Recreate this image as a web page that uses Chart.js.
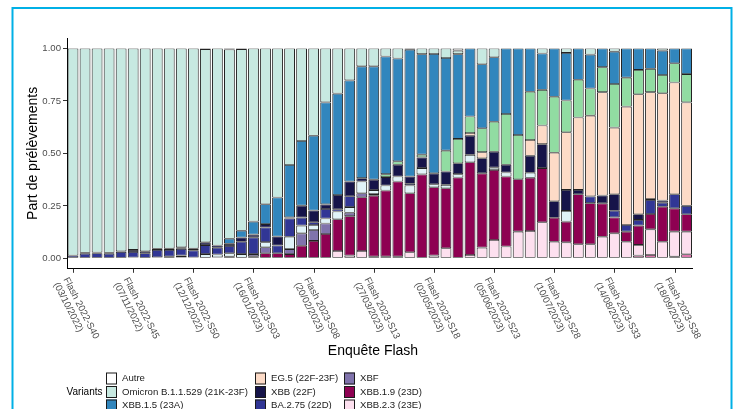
<!DOCTYPE html>
<html>
<head>
<meta charset="utf-8">
<script src="https://cdn.jsdelivr.net/npm/chart.js@4.4.1/dist/chart.umd.min.js"></script>
<style>
  html, body { margin: 0; padding: 0; background: #ffffff; }
  #wrap { position: relative; width: 739px; height: 409px; overflow: hidden; }
</style>
</head>
<body>
<div id="wrap"><canvas id="chart" width="739" height="409"></canvas></div>
<script>
// Weekly "Enquête Flash" surveys
const weeks = [
  "Flash 2022-S40","Flash 2022-S41","Flash 2022-S42","Flash 2022-S43","Flash 2022-S44","Flash 2022-S45",
  "Flash 2022-S46","Flash 2022-S47","Flash 2022-S48","Flash 2022-S49","Flash 2022-S50","Flash 2022-S51",
  "Flash 2022-S52","Flash 2023-S01","Flash 2023-S02","Flash 2023-S03","Flash 2023-S04","Flash 2023-S05",
  "Flash 2023-S06","Flash 2023-S07","Flash 2023-S08","Flash 2023-S09","Flash 2023-S10","Flash 2023-S11",
  "Flash 2023-S12","Flash 2023-S13","Flash 2023-S14","Flash 2023-S15","Flash 2023-S16","Flash 2023-S17",
  "Flash 2023-S18","Flash 2023-S19","Flash 2023-S20","Flash 2023-S21","Flash 2023-S22","Flash 2023-S23",
  "Flash 2023-S24","Flash 2023-S25","Flash 2023-S26","Flash 2023-S27","Flash 2023-S28","Flash 2023-S29",
  "Flash 2023-S30","Flash 2023-S31","Flash 2023-S32","Flash 2023-S33","Flash 2023-S34","Flash 2023-S35",
  "Flash 2023-S36","Flash 2023-S37","Flash 2023-S38","Flash 2023-S39"
];

// Labelled weeks on the x axis and their survey dates
const tickWeeks = ["Flash 2022-S40","Flash 2022-S45","Flash 2022-S50","Flash 2023-S03","Flash 2023-S08",
  "Flash 2023-S13","Flash 2023-S18","Flash 2023-S23","Flash 2023-S28","Flash 2023-S33","Flash 2023-S38"];
const tickDates = ["(03/10/2022)","(07/11/2022)","(12/12/2022)","(16/01/2023)","(20/02/2023)",
  "(27/03/2023)","(02/05/2023)","(05/06/2023)","(10/07/2023)","(14/08/2023)","(18/09/2023)"];

const yTicks = [0, 0.25, 0.5, 0.75, 1];

// Share of samples per variant, one value per week
const autre = [0,0,0,0,0,0,0,0,0,0, 0,0.003,0,0.005,0.003,0,0,0,0,0,
  0,0,0,0,0,0,0,0,0.003,0, 0,0,0.01,0,0,0,0,0,0,0, 0,0,0,0,0,0,0,0,0,0, 0,0];
const omicron = [0.987,0.974,0.972,0.974,0.967,0.96,0.966,0.955,0.954,0.947,
  0.954,0.921,0.939,0.902,0.866,0.825,0.742,0.71,0.555,0.441,
  0.416,0.257,0.215,0.152,0.085,0.085,0.038,0.048,0.003,0.027,
  0.026,0.045,0.017,0,0.075,0.042,0,0,0,0.024,
  0,0.021,0,0.029,0,0.015,0,0,0,0.01, 0,0];
const xbb15 = [0,0,0,0,0,0,0,0,0,0,
  0,0,0,0.024,0.032,0.062,0.095,0.186,0.25,0.308,
  0.356,0.486,0.483,0.482,0.533,0.54,0.561,0.49,0.604,0.479,
  0.569,0.442,0.404,0.324,0.305,0.307,0.312,0.412,0.206,0.173,
  0.23,0.227,0.149,0.162,0.089,0.154,0.139,0.102,0.097,0.116, 0.07,0.122];
const xbb116 = [0,0,0,0,0,0,0,0,0,0, 0,0,0,0,0,0,0,0,0,0,
  0,0,0,0,0,0,0.014,0.016,0,0.013,
  0,0.099,0.116,0.079,0.114,0.143,0.242,0.211,0.23,0.17,
  0.267,0.151,0.18,0.129,0.119,0.208,0.138,0.116,0.111,0.087, 0.092,0.135];
const eg5 = [0,0,0,0,0,0,0,0,0,0, 0,0,0,0,0,0,0,0,0,0, 0,0,0,0,0,0,0,0,0,0,
  0,0,0,0.013,0.029,0,0,0,0.075,0.089,
  0.231,0.275,0.345,0.385,0.493,0.318,0.564,0.572,0.509,0.512, 0.533,0.493];
const xbb = [0,0.004,0.004,0.004,0.003,0.01,0.01,0.005,0.006,0.008,
  0.008,0.013,0.011,0.01,0.02,0.013,0.016,0.043,0.005,0.057,
  0.056,0.022,0.068,0.07,0.016,0.05,0.04,0.056,0.035,0.051,
  0.052,0.064,0.052,0.091,0.072,0.076,0.037,0,0.081,0.114,
  0.079,0.1,0.021,0,0.037,0.078,0,0.027,0.005,0.01, 0,0];
const ba275 = [0.013,0.022,0.024,0.022,0.03,0.026,0.024,0.035,0.032,0.032,
  0.034,0.043,0.032,0.035,0.059,0.08,0.07,0.037,0.087,0.038,
  0.013,0.045,0.011,0.052,0,0,0,0,0.008,0,
  0,0,0,0,0,0,0,0,0,0,
  0,0,0,0.032,0,0.032,0.032,0.027,0.067,0.019, 0.067,0.04];
const bq1 = [0,0,0,0,0,0,0,0.005,0.008,0.008,
  0.004,0.02,0.013,0.016,0.02,0,0.024,0,0.059,0.037,
  0.024,0.024,0.037,0.027,0.056,0.019,0.024,0.024,0.037,0.03,
  0.014,0.016,0.016,0.035,0,0.011,0.019,0,0.024,0,
  0,0.051,0,0,0,0,0,0,0,0, 0,0];
const xbf = [0,0,0,0,0,0.004,0,0,0,0.005,
  0,0,0.005,0.008,0,0.01,0.029,0,0.024,0.059,
  0.052,0.05,0,0.016,0.019,0.008,0,0,0,0,
  0,0,0,0,0,0,0,0,0,0, 0,0,0,0,0,0,0,0,0,0, 0,0];
const xbb19 = [0,0,0,0,0,0,0,0,0,0,
  0,0,0,0,0,0.01,0.024,0.024,0.02,0.06,
  0.083,0.116,0.151,0.188,0.256,0.29,0.315,0.358,0.281,0.4,
  0.326,0.286,0.385,0.442,0.354,0.334,0.334,0.25,0.254,0.258,
  0.114,0.099,0.238,0.196,0.159,0.076,0.048,0.092,0.073,0.167, 0.111,0.083];
const xbb23 = [0,0,0,0,0,0,0,0,0,0, 0,0,0,0,0,0,0,0,0,0,
  0,0,0.035,0.013,0.035,0.008,0.008,0.008,0.029,0,
  0.013,0.048,0,0.016,0.051,0.087,0.056,0.127,0.13,0.172,
  0.079,0.076,0.067,0.067,0.103,0.119,0.079,0.051,0.122,0.079, 0.119,0.108];
const ba286 = [0,0,0,0,0,0,0,0,0,0, 0,0,0,0,0,0,0,0,0,0,
  0,0,0,0,0,0,0,0,0,0, 0,0,0,0,0,0,0,0,0,0,
  0,0,0,0,0,0,0,0.013,0.016,0, 0.008,0.019];

const FONT = '"Liberation Sans", Arial, Helvetica, sans-serif';

// Stacking order: first dataset sits at the bottom of each bar
const series = [
  { label: "BA.2.86",                    data: ba286,   color: "#de77ae" },
  { label: "XBB.2.3 (23E)",              data: xbb23,   color: "#fde0ef" },
  { label: "XBB.1.9 (23D)",              data: xbb19,   color: "#8e0152" },
  { label: "XBF",                        data: xbf,     color: "#8073ac" },
  { label: "BQ.1 (22E)",                 data: bq1,     color: "#e0f3f8" },
  { label: "BA.2.75 (22D)",              data: ba275,   color: "#313695" },
  { label: "XBB (22F)",                  data: xbb,     color: "#161449" },
  { label: "EG.5 (22F-23F)",             data: eg5,     color: "#fddbc7" },
  { label: "XBB.1.16 (23B)",             data: xbb116,  color: "#91dca2" },
  { label: "XBB.1.5 (23A)",              data: xbb15,   color: "#3186bd" },
  { label: "Omicron B.1.1.529 (21K-23F)",data: omicron, color: "#c7e9e1" },
  { label: "Autre",                      data: autre,   color: "#ffffff" }
];

// Legend layout: columns filled top to bottom
const legendColumns = [
  ["Autre", "Omicron B.1.1.529 (21K-23F)", "XBB.1.5 (23A)", "XBB.1.16 (23B)"],
  ["EG.5 (22F-23F)", "XBB (22F)", "BA.2.75 (22D)", "BQ.1 (22E)"],
  ["XBF", "XBB.1.9 (23D)", "XBB.2.3 (23E)", "BA.2.86"]
];

const decorations = {
  id: "decorations",
  afterDraw(chart) {
    const ctx = chart.ctx;
    const xs = chart.scales.x;
    const area = chart.chartArea;

    // x ticks and two-line rotated labels
    ctx.save();
    ctx.strokeStyle = "#333333";
    ctx.lineWidth = 1;
    ctx.fillStyle = "#4d4d4d";
    ctx.font = "9.6px " + FONT;
    ctx.textAlign = "left";
    ctx.textBaseline = "top";
    const ang = 63 * Math.PI / 180;
    tickWeeks.forEach((wk, k) => {
      const idx = weeks.indexOf(wk);
      const px = xs.getPixelForValue(idx);
      ctx.beginPath();
      ctx.moveTo(Math.round(px) + 0.5, area.bottom);
      ctx.lineTo(Math.round(px) + 0.5, area.bottom + 4);
      ctx.stroke();
      ctx.save();
      ctx.translate(px - 3, area.bottom + 7);
      ctx.rotate(ang);
      ctx.fillText(wk, 0, 0);
      ctx.fillText(tickDates[k], 0, 11);
      ctx.restore();
    });
    ctx.restore();

    // axis titles
    ctx.save();
    ctx.fillStyle = "#000000";
    ctx.font = "14px " + FONT;
    ctx.textAlign = "center";
    ctx.textBaseline = "middle";
    ctx.fillText("Enquête Flash", 373, 351);
    ctx.translate(33, (area.top + area.bottom) / 2);
    ctx.rotate(-Math.PI / 2);
    ctx.fillText("Part de prélèvements", 0, 0);
    ctx.restore();

    // legend
    ctx.save();
    ctx.font = "10px " + FONT;
    ctx.fillStyle = "#000000";
    ctx.textAlign = "right";
    ctx.textBaseline = "middle";
    ctx.fillText("Variants", 102.5, 392.5);
    ctx.font = "9.6px " + FONT;
    ctx.textAlign = "left";
    const colBox = [106, 255, 344];
    const rowY = [378.5, 392, 405.5, 419];
    legendColumns.forEach((col, c) => {
      col.forEach((name, r) => {
        const s = series.find(d => d.label === name);
        const bx = colBox[c], by = rowY[r] - 6;
        ctx.fillStyle = s.color;
        ctx.fillRect(bx, by, 11, 12);
        ctx.strokeStyle = "#1a1a1a";
        ctx.lineWidth = 1;
        ctx.strokeRect(bx + 0.5, by + 0.5, 10, 11);
        ctx.fillStyle = "#1a1a1a";
        ctx.fillText(name, bx + 16, rowY[r]);
      });
    });
    ctx.restore();

    // outer frame
    ctx.save();
    ctx.strokeStyle = "#00b0e6";
    ctx.lineWidth = 2;
    ctx.strokeRect(12.5, 8, 719, 430);
    ctx.restore();
  }
};

new Chart(document.getElementById("chart"), {
  type: "bar",
  data: {
    labels: weeks,
    datasets: series.map(s => ({
      label: s.label,
      data: s.data,
      backgroundColor: s.color,
      borderColor: "#222222",
      borderWidth: { top: 0.8, bottom: 0.8, left: 1, right: 1 },
      borderSkipped: false,
      barPercentage: 0.9,
      categoryPercentage: 1.0
    }))
  },
  options: {
    responsive: false,
    animation: false,
    events: [],
    devicePixelRatio: 1,
    layout: { padding: { top: 38, right: 46.4, left: 0, bottom: 0 } },
    plugins: { legend: { display: false }, tooltip: { enabled: false }, title: { display: false } },
    scales: {
      x: {
        stacked: true,
        offset: true,
        grid: { display: false },
        border: { display: true, color: "#000000", width: 1 },
        ticks: { display: false },
        afterFit: s => { s.height = 140.2; }
      },
      y: {
        stacked: true,
        min: -0.05,
        max: 1.05,
        afterBuildTicks: s => { s.ticks = yTicks.map(v => ({ value: v })); },
        afterFit: s => { s.width = 67; },
        grid: { display: true, drawOnChartArea: false, drawTicks: true, tickLength: 4, color: "#333333", lineWidth: 1 },
        border: { display: true, color: "#000000", width: 1 },
        ticks: {
          padding: 2,
          color: "#4d4d4d",
          font: { family: FONT, size: 9.6 },
          callback: v => Number(v).toFixed(2)
        }
      }
    }
  },
  plugins: [decorations]
});
</script>
</body>
</html>
